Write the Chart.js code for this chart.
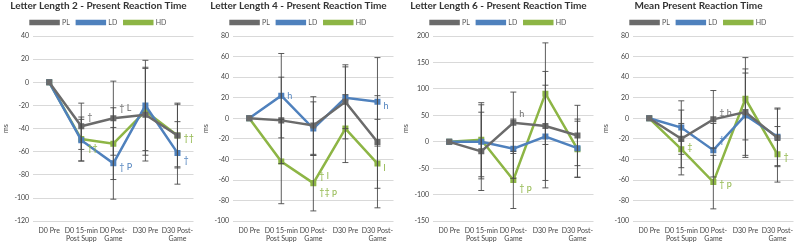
<!DOCTYPE html>
<html>
<head>
<meta charset="utf-8">
<script src="https://cdn.jsdelivr.net/npm/chart.js@4.4.0/dist/chart.umd.min.js"></script>
<style>
  body { margin: 0; background: #fff; }
  .fila { display: flex; width: 800px; height: 243px; }
  canvas { display: block; }
</style>
</head>
<body>
<div class="fila">
  <canvas id="g1" width="200" height="243"></canvas>
  <canvas id="g2" width="200" height="243"></canvas>
  <canvas id="g3" width="200" height="243"></canvas>
  <canvas id="g4" width="200" height="243"></canvas>
</div>
<script>
const categorias = ['D0 Pre', ['D0 15-min', 'Post Supp'], ['D0 Post-', 'Game'], 'D30 Pre', ['D30 Post-', 'Game']];
const series = ['PL', 'LD', 'HD'];
const colores = ['#6b6b6b', '#4f81bd', '#8db545'];

// Letter Length 2
const ll2PL = [0, -38, -31, -28, -46];
const ll2LD = [0, -50, -70, -20, -61];
const ll2HD = [0, -49, -53, -25, -46];
const ll2PLErr = [0, 20, 32, 40, 27];
const ll2LDErr = [0, 18, 31, 39, 27];
const ll2HDErr = [0, 19, 31, 38, 28];
const ll2Ticks = [-120, 40, 20];

// Letter Length 4
const ll4PL = [0, -2, -7, 16, -23];
const ll4LD = [0, 22, -10, 20, 16];
const ll4HD = [0, -42, -63, -10, -44];
const ll4PLErr = [0, 42, 28, 36, 45];
const ll4LDErr = [0, 41, 26, 30, 43];
const ll4HDErr = [0, 41, 27, 33, 43];
const ll4Ticks = [-100, 80, 20];

// Letter Length 6
const ll6PL = [0, -18, 36, 30, 12];
const ll6LD = [0, 0, -13, 10, -12];
const ll6HD = [0, 4, -72, 91, -14];
const ll6PLErr = [0, 74, 58, 103, 57];
const ll6LDErr = [0, 70, 56, 97, 55];
const ll6HDErr = [0, 70, 54, 96, 53];
const ll6Ticks = [-150, 200, 50];

// Mean
const meanPL = [0, -20, -1, 6, -19];
const meanLD = [0, -9, -31, 3, -18];
const meanHD = [0, -30, -62, 19, -35];
const meanPLErr = [0, 28, 28, 42, 28];
const meanLDErr = [0, 26, 26, 41, 28];
const meanHDErr = [0, 25, 26, 40, 27];
const meanTicks = [-100, 80, 20];

// anotaciones: [indice x, valor y, texto, serie]
const ll2Notas = [[1, -30, '†', 0], [1, -57, '††', 2], [2, -22, '† L', 0], [2, -73, '† P', 1], [4, -48, '††', 2], [4, -67, '†', 1]];
const ll4Notas = [[1, 22, 'h', 1], [2, -56, '† l', 2], [2, -72, '†‡ p', 2], [4, 12, 'h', 1], [4, -48, 'l', 2]];
const ll6Notas = [[2, 52, 'h', 0], [2, -88, '† p', 2]];
const meanNotas = [[2, 5, '‡ h', 0], [2, -21, '†', 1], [1, -28, '‡', 2], [2, -64, '† p', 2], [4, -38, '†', 2]];

const fuente = "Lato, 'Open Sans', sans-serif";

const barrasError = {
    id: 'barrasError',
    afterDatasetsDraw(chart) {
        const ctx = chart.ctx;
        const y = chart.scales.y;
        ctx.save();
        ctx.strokeStyle = '#4a4a4a';
        ctx.lineWidth = 0.9;
        chart.data.datasets.forEach((ds, i) => {
            const meta = chart.getDatasetMeta(i);
            ds.errores.forEach((e, j) => {
                if (!e) return;
                const px = meta.data[j].x;
                const top = y.getPixelForValue(ds.data[j] + e);
                const bot = y.getPixelForValue(ds.data[j] - e);
                ctx.beginPath();
                ctx.moveTo(px, top); ctx.lineTo(px, bot);
                ctx.moveTo(px - 3, top); ctx.lineTo(px + 3, top);
                ctx.moveTo(px - 3, bot); ctx.lineTo(px + 3, bot);
                ctx.stroke();
            });
        });
        ctx.restore();
    }
};

const notas = {
    id: 'notas',
    afterDraw(chart) {
        const ctx = chart.ctx;
        const lista = chart.options.plugins.notas.lista || [];
        ctx.save();
        ctx.font = '9px ' + fuente;
        ctx.textBaseline = 'middle';
        lista.forEach(n => {
            const px = chart.scales.x.getPixelForValue(n[0]) + 6;
            const py = chart.scales.y.getPixelForValue(n[1]);
            ctx.fillStyle = colores[n[3]];
            ctx.fillText(n[2], px, py);
        });
        ctx.restore();
    }
};

function grafico(id, titulo, datos, errores, ticks, lista) {
    new Chart(document.getElementById(id), {
        type: 'line',
        data: {
            labels: categorias,
            datasets: series.map((s, i) => ({
                label: s,
                data: datos[i],
                errores: errores[i],
                borderColor: colores[i],
                backgroundColor: colores[i],
                borderWidth: 2.5,
                pointStyle: 'rect',
                pointRadius: 2.5,
                tension: 0
            }))
        },
        options: {
            responsive: false,
            animation: false,
            layout: { padding: { left: 2, right: 5, top: 0, bottom: -5 } },
            plugins: {
                title: {
                    display: true,
                    text: titulo,
                    color: '#333',
                    font: { family: fuente, size: 10, weight: 'bold' },
                    padding: { top: 0, bottom: 0 }
                },
                legend: {
                    labels: {
                        boxWidth: 28,
                        boxHeight: 3,
                        color: '#555',
                        font: { family: fuente, size: 7 },
                        padding: 7
                    }
                },
                tooltip: { enabled: false },
                notas: { lista }
            },
            scales: {
                x: {
                    offset: true,
                    grid: { display: false, drawTicks: false },
                    border: { display: false },
                    ticks: { color: '#444', font: { family: fuente, size: 7 }, maxRotation: 0, autoSkip: false, padding: 5 }
                },
                y: {
                    min: ticks[0],
                    max: ticks[1],
                    border: { display: false },
                    grid: { color: '#d9d9d9', drawTicks: false },
                    ticks: { stepSize: ticks[2], color: '#444', font: { family: fuente, size: 7 }, padding: 4 },
                    title: { display: true, text: 'ms', color: '#444', font: { family: fuente, size: 7 }, padding: 0 }
                }
            }
        },
        plugins: [barrasError, notas]
    });
}

grafico('g1', 'Letter Length 2 - Present Reaction Time', [ll2PL, ll2LD, ll2HD], [ll2PLErr, ll2LDErr, ll2HDErr], ll2Ticks, ll2Notas);
grafico('g2', 'Letter Length 4 - Present Reaction Time', [ll4PL, ll4LD, ll4HD], [ll4PLErr, ll4LDErr, ll4HDErr], ll4Ticks, ll4Notas);
grafico('g3', 'Letter Length 6 - Present Reaction Time', [ll6PL, ll6LD, ll6HD], [ll6PLErr, ll6LDErr, ll6HDErr], ll6Ticks, ll6Notas);
grafico('g4', 'Mean Present Reaction Time', [meanPL, meanLD, meanHD], [meanPLErr, meanLDErr, meanHDErr], meanTicks, meanNotas);
</script>
</body>
</html>
